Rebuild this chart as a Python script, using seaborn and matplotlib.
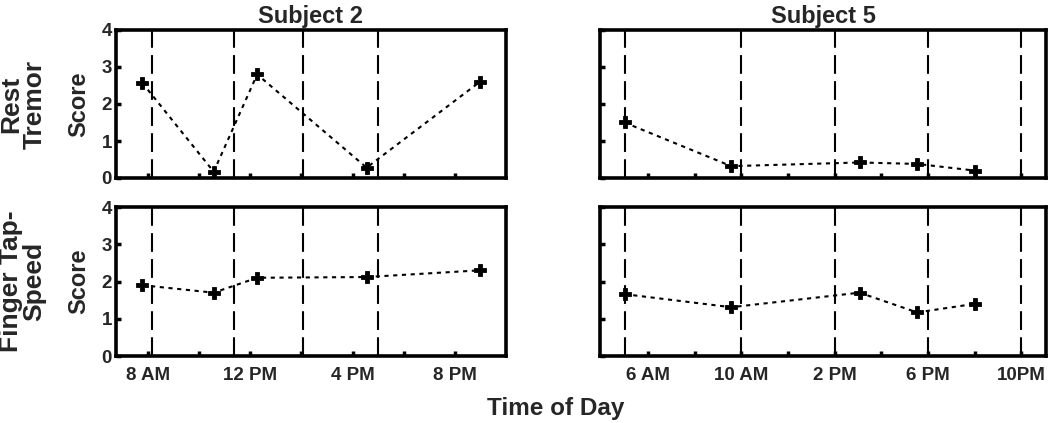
import matplotlib
matplotlib.use("Agg")
import matplotlib.pyplot as plt
import seaborn as sns
import pandas as pd

# ---- data ----
s2_times = [7.78, 10.57, 12.27, 16.55, 20.98]
s2_rest = [2.57, 0.17, 2.80, 0.28, 2.60]
s2_tap = [1.90, 1.70, 2.10, 2.12, 2.30]
s5_times = [5.00, 9.57, 15.07, 17.53, 20.00]
s5_rest = [1.50, 0.32, 0.42, 0.38, 0.20]
s5_tap = [1.66, 1.31, 1.70, 1.17, 1.40]
s2_meds = [8.15, 11.35, 14.07, 17.0]
s5_meds = [5.0, 10.0, 14.0, 18.0, 22.0]
s2_ticks = [8, 10, 12, 14, 16, 18, 20]
s2_ticklabels = ["8 AM", "", "12 PM", "", "4 PM", "", "8 PM"]
s5_ticks = [6, 8, 10, 12, 14, 16, 18, 20, 22]
s5_ticklabels = ["6 AM", "", "10 AM", "", "2 PM", "", "6 PM", "", "10PM"]
yticks = [0, 1, 2, 3, 4]
titles = ["Subject 2", "Subject 5"]
row_labels = ["Rest\nTremor", "Finger Tap-\nSpeed"]

sns.set_style("white")
plt.rcParams['font.family'] = ['Liberation Sans', 'DejaVu Sans']
plt.rcParams['font.weight'] = 'bold'

fig = plt.figure(figsize=(10.5, 4.23), dpi=100)
W, H = 1050, 423
lefts = [116, 600]
rights = [506, 1046]
tops = [30, 207]
bottoms = [178, 356]

cols = [
    dict(t=s2_times, rows=[s2_rest, s2_tap], meds=s2_meds, xlim=(6.75, 22.0),
         ticks=s2_ticks, labels=s2_ticklabels),
    dict(t=s5_times, rows=[s5_rest, s5_tap], meds=s5_meds, xlim=(3.95, 23.05),
         ticks=s5_ticks, labels=s5_ticklabels),
]

for c, col in enumerate(cols):
    for r in range(2):
        ax = fig.add_axes([lefts[c] / W, 1 - bottoms[r] / H,
                           (rights[c] - lefts[c]) / W, (bottoms[r] - tops[r]) / H])
        for m in col['meds']:
            ax.axvline(m, color='black', lw=1.5, dashes=(9, 3.5), zorder=1)
        df = pd.DataFrame({'time': col['t'], 'score': col['rows'][r]})
        sns.lineplot(data=df, x='time', y='score', ax=ax, color='black',
                     lw=1.5, linestyle=(0, (2, 2.2)), marker='P', markersize=8,
                     markeredgewidth=0.6, markeredgecolor='black', zorder=3)
        ax.set_xlim(*col['xlim'])
        ax.set_ylim(0, 4)
        ax.set_yticks(yticks)
        ax.set_xticks(col['ticks'])
        for s in ax.spines.values():
            s.set_linewidth(2.6)
            s.set_color('black')
        ax.tick_params(direction='in', length=3.5, width=2.5, color='black',
                       labelsize=13.5, bottom=True, left=True, top=False, right=False)
        ax.tick_params(axis='x', pad=8)
        ax.tick_params(axis='y', pad=3)
        if r == 1:
            ax.set_xticklabels(col['labels'], fontweight='bold')
        else:
            ax.set_xticklabels([])
        if c == 0:
            ax.set_yticklabels([str(v) for v in yticks], fontweight='bold')
            ax.set_ylabel("Score", fontsize=17, fontweight='bold')
            ax.yaxis.set_label_coords(-0.067, 0.5)
        else:
            ax.set_yticklabels([])
            ax.set_ylabel("")
        ax.set_xlabel("")
        if r == 0:
            ax.set_title(titles[c], fontsize=17, fontweight='bold', pad=5)

for r in range(2):
    yc = 1 - (tops[r] + bottoms[r]) / 2 / H
    fig.text(23 / W, yc, row_labels[r], rotation=90, ha='center', va='center',
             multialignment='center', fontsize=19, fontweight='bold', linespacing=0.95)

fig.text(556 / W, 1 - 408 / H, "Time of Day", ha='center', va='center',
         fontsize=17.5, fontweight='bold')

fig.savefig("out.png", dpi=100)
